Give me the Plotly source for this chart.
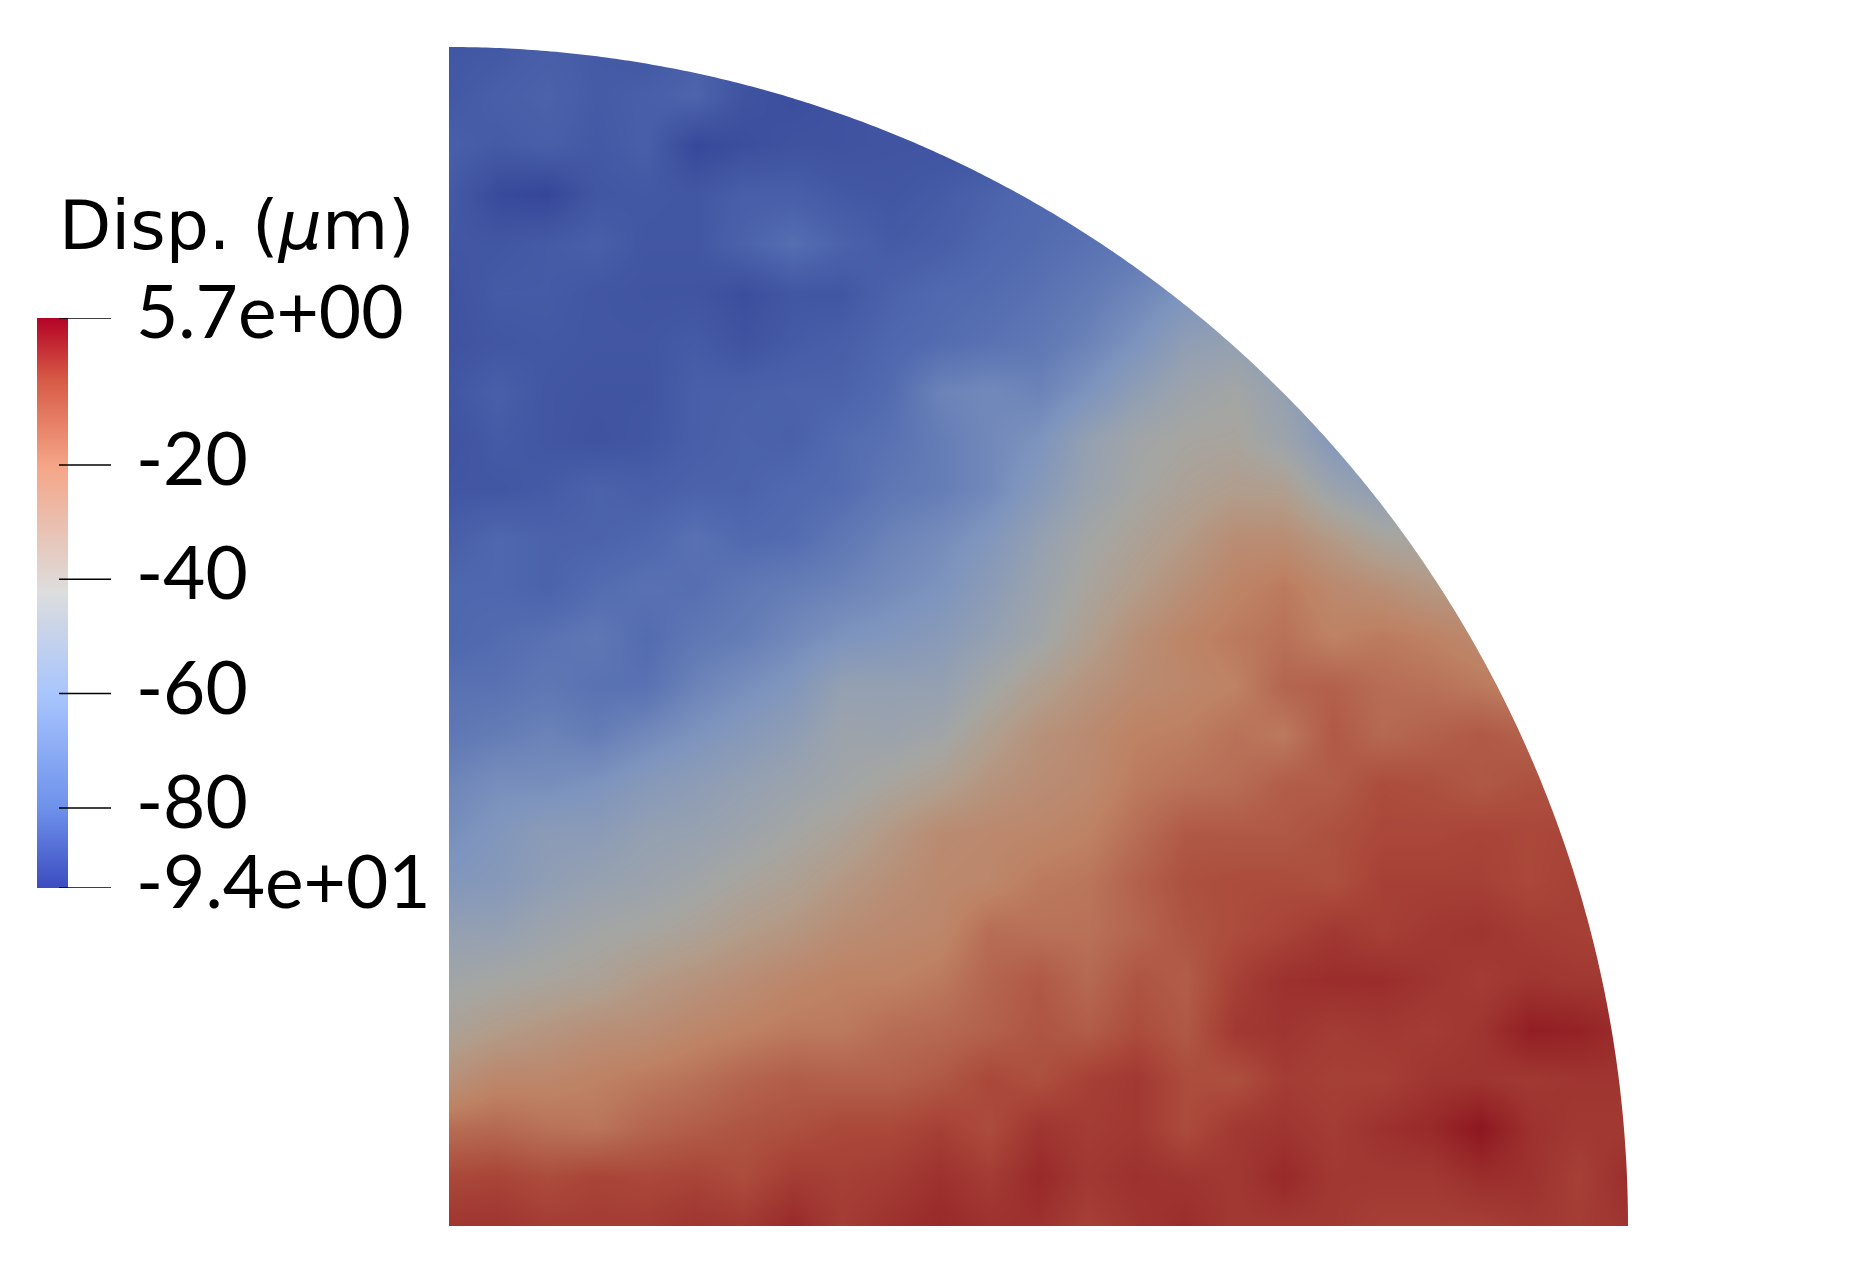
import numpy as np
import plotly.graph_objects as go

W, H = 1856, 1270
Z_MIN, Z_MAX = -94.0, 5.7
TICK_VALUES = [5.7, -20, -40, -60, -80, -94]
TICK_LABELS = ["5.7e+00", "-20", "-40", "-60", "-80", "-9.4e+01"]

DISP = [
[-84,-83,-80,-82,-84,-80,-83,-85,-85,-85,-84,-84,-84,-83,-82,-82,-80,-78,-76,-74,-72,-70,-68,-66,-64],
[-83,-80,-78,-82,-80,-77,-86,-88,-86,-85,-84,-84,-84,-83,-82,-82,-80,-78,-76,-74,-72,-70,-68,-66,-64],
[-80,-82,-80,-83,-80,-91,-88,-86,-86,-85,-85,-86,-83,-80,-78,-76,-74,-72,-70,-68,-66,-64,-62,-60,-58],
[-82,-90,-92,-84,-83,-84,-80,-80,-83,-84,-82,-78,-75,-74,-72,-70,-68,-66,-64,-62,-60,-58,-56,-54,-52],
[-84,-84,-82,-80,-84,-84,-78,-73,-78,-82,-80,-76,-74,-72,-70,-68,-66,-64,-62,-60,-58,-56,-54,-52,-50],
[-86,-82,-82,-84,-85,-85,-88,-84,-84,-78,-75,-74,-72,-69,-65,-60,-58,-58,-58,-56,-54,-52,-50,-48,-46],
[-86,-84,-83,-84,-84,-82,-86,-82,-80,-76,-74,-72,-70,-66,-60,-52,-50,-54,-58,-56,-52,-50,-48,-46,-44],
[-84,-80,-84,-85,-85,-80,-79,-78,-78,-74,-66,-64,-66,-60,-52,-46,-43,-50,-60,-60,-56,-50,-46,-44,-42],
[-86,-82,-84,-86,-84,-80,-78,-79,-74,-72,-68,-64,-60,-50,-44,-41,-40,-46,-57,-60,-56,-48,-44,-42,-40],
[-84,-84,-82,-78,-80,-78,-78,-75,-74,-70,-68,-64,-56,-48,-42,-38,-35,-36,-47,-53,-50,-44,-40,-38,-36],
[-80,-76,-78,-78,-76,-72,-75,-74,-70,-66,-63,-58,-50,-43,-38,-33,-27,-27,-33,-40,-42,-38,-36,-34,-32],
[-76,-76,-78,-74,-72,-73,-70,-68,-66,-63,-60,-54,-47,-40,-34,-28,-23,-20,-25,-28,-32,-32,-30,-28,-26],
[-76,-74,-72,-70,-74,-70,-68,-64,-60,-58,-55,-50,-44,-36,-28,-23,-20,-18,-22,-20,-22,-25,-26,-24,-22],
[-72,-72,-70,-72,-72,-66,-62,-58,-50,-50,-50,-43,-36,-30,-26,-24,-22,-15,-14,-17,-18,-20,-22,-20,-18],
[-70,-68,-66,-68,-64,-60,-56,-52,-46,-47,-44,-36,-29,-26,-22,-21,-18,-20,-12,-16,-14,-12,-14,-14,-14],
[-65,-62,-62,-60,-56,-53,-50,-47,-44,-40,-36,-30,-27,-25,-20,-18,-17,-13,-13,-9,-10,-12,-10,-11,-11],
[-62,-58,-54,-54,-50,-49,-46,-42,-38,-32,-26,-25,-24,-22,-17,-12,-12,-12,-10,-8,-8,-7,-8,-7,-8],
[-58,-56,-52,-49,-47,-44,-40,-37,-32,-28,-25,-24,-20,-19,-14,-10,-9,-9,-10,-6,-6,-6,-8,-6,-6],
[-50,-50,-46,-43,-41,-38,-34,-31,-27,-25,-24,-17,-18,-18,-15,-11,-9,-7,-4,-6,-4,-3,-5,-6,-6],
[-44,-42,-40,-38,-33,-30,-27,-24,-22,-22,-20,-15,-12,-16,-11,-13,-6,-2,-1,-1,-3,-5,-3,-4,-4],
[-38,-34,-31,-28,-27,-24,-22,-20,-20,-17,-16,-14,-11,-13,-9,-12,-4,-3,-5,-4,-5,-3,3,2,-1],
[-29,-24,-24,-22,-20,-18,-15,-13,-14,-14,-12,-8,-10,-6,-4,-9,-10,-5,-6,-6,-3,-3,-4,-3,-3],
[-17,-16,-18,-19,-15,-13,-11,-10,-8,-8,-6,-9,-3,-5,-4,-9,-4,-3,-5,-2,0,5,-2,-4,-4],
[-8,-7,-9,-7,-8,-7,-9,-5,-6,-5,-2,-5,0,-4,-2,-3,-4,0,-4,-4,-4,-1,-2,-6,-1],
[-3,-3,-5,-5,-5,-3,-4,0,-5,-2,0,-2,-2,-6,-3,-1,-4,-4,-4,-6,-6,-6,-4,-5,-3],
]
RADIUS = len(DISP) - 1
X_POS = list(range(RADIUS + 1))
Y_POS = list(range(RADIUS, -1, -1))

# lit surface colours (muted) and the raw legend colours
SURFACE_STOPS = [(-94, "rgb(50,66,150)"), (-75, "rgb(80,105,175)"), (-60, "rgb(125,148,190)"),
                 (-50, "rgb(148,160,178)"), (-42, "rgb(165,166,163)"), (-34, "rgb(178,156,138)"),
                 (-22, "rgb(190,130,100)"), (-8, "rgb(170,72,58)"), (5.7, "rgb(140,20,30)")]
BAR_STOPS = [(-94, "rgb(59,76,192)"), (-80, "rgb(110,145,235)"), (-60, "rgb(168,197,253)"),
             (-42, "rgb(221,221,221)"), (-20, "rgb(245,165,135)"), (-5, "rgb(215,90,70)"),
             (5.7, "rgb(180,4,38)")]
BAR_VALUES = [5.7, 0, -5, -10, -20, -30, -42, -50, -60, -70, -80, -90, -94]


def norm(stops):
    return [[(v - Z_MIN) / (Z_MAX - Z_MIN), c] for v, c in stops]


def xd(a, b):
    return [a / W, b / W]


def yd(top, bottom):
    return [(H - bottom) / H, (H - top) / H]


fig = go.Figure()
fig.add_trace(go.Heatmap(z=DISP, x=X_POS, y=Y_POS, zmin=Z_MIN, zmax=Z_MAX, zsmooth="best",
                         colorscale=norm(SURFACE_STOPS), showscale=False,
                         xaxis="x", yaxis="y", hoverinfo="skip"))
fig.add_trace(go.Heatmap(z=[[v, v] for v in BAR_VALUES], x=[0, 1], y=BAR_VALUES,
                         zmin=Z_MIN, zmax=Z_MAX, zsmooth="best",
                         colorscale=norm(BAR_STOPS), showscale=False,
                         xaxis="x2", yaxis="y2", hoverinfo="skip"))

# white mask that gives the heatmap its quarter-circle edge
t = np.linspace(0, np.pi / 2, 400)
pts = [(RADIUS * np.cos(a), RADIUS * np.sin(a)) for a in t]
path = "M " + " L ".join(f"{x:.4f} {y:.4f}" for x, y in pts) + f" L {RADIUS} {RADIUS} Z"
shapes = [dict(type="path", path=path, xref="x", yref="y", fillcolor="white",
               line=dict(width=0), layer="above")]
for v in TICK_VALUES:
    shapes.append(dict(type="line", xref="paper", yref="y2", x0=59 / W, x1=111 / W, y0=v, y1=v,
                       line=dict(color="black", width=1.5), layer="above"))

annotations = [dict(text=lab, x=134 / W, y=v, xref="paper", yref="y2", xanchor="left",
                    yanchor="middle", yshift=8, showarrow=False,
                    font=dict(family="Lato", size=73, color="black"))
               for v, lab in zip(TICK_VALUES, TICK_LABELS)]
annotations.append(dict(text="Disp. (<i>μ</i>m)", x=57 / W, y=(H - 225) / H, xref="paper",
                        yref="paper", xanchor="left", yanchor="middle", showarrow=False,
                        font=dict(family="DejaVu Sans", size=68, color="black")))

hidden = dict(visible=False, showgrid=False, zeroline=False)
fig.update_layout(
    width=W, height=H, margin=dict(l=0, r=0, t=0, b=0),
    paper_bgcolor="white", plot_bgcolor="white",
    xaxis=dict(domain=xd(449, 1628), range=[0, RADIUS], **hidden),
    yaxis=dict(domain=yd(47, 1226), range=[0, RADIUS], **hidden),
    xaxis2=dict(domain=xd(37, 68), range=[0, 1], anchor="y2", **hidden),
    yaxis2=dict(domain=yd(318, 888), range=[Z_MIN, Z_MAX], anchor="x2", **hidden),
    shapes=shapes, annotations=annotations, showlegend=False,
)
fig.write_html("out.html", config={"displayModeBar": False},
               post_script="document.body.style.margin='0';")
